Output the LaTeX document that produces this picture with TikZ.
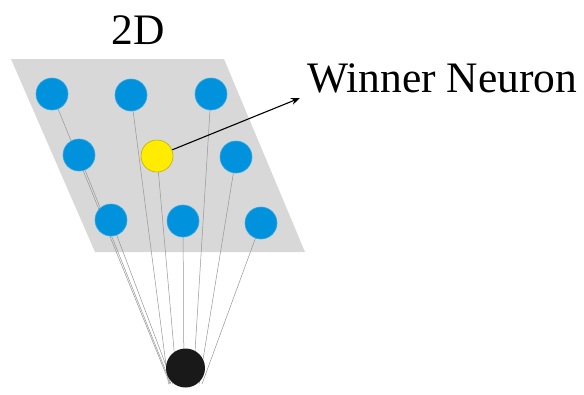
\documentclass[tikz,border=0pt]{standalone}
\usepackage{fontspec}
\setmainfont{Liberation Serif}
\usetikzlibrary{arrows.meta}
\definecolor{planegray}{RGB}{216,216,216}
\definecolor{unitblue}{RGB}{0,146,221}
\definecolor{winyellow}{RGB}{255,236,0}
\definecolor{linkgray}{RGB}{150,150,150}
\tikzset{
  unit/.style={circle, minimum size=32pt, inner sep=0pt, fill=unitblue, draw=unitblue!80!white, line width=0.6pt},
  winner/.style={unit, fill=winyellow, draw=winyellow!75!black},
  inputnode/.style={circle, minimum size=39pt, inner sep=0pt, fill=black!90},
  link/.style={draw=linkgray, line width=0.5pt},
  label/.style={font=\fontsize{43.5}{48}\selectfont, inner sep=0pt}
}
\begin{document}
\begin{tikzpicture}[x=1pt, y=-1pt]
  \useasboundingbox (0,0) rectangle (584,394);
  % 2D map plane
  \fill[planegray] (11,59) -- (224,59) -- (305,252) -- (95,252) -- cycle;
  % units of the map and the input node (positions first, drawn later on top)
  \coordinate (u11) at (52,94);
  \coordinate (u12) at (131,95);
  \coordinate (u13) at (211,94);
  \coordinate (u21) at (79,155);
  \coordinate (u22) at (157,156);
  \coordinate (u23) at (236,157);
  \coordinate (u31) at (111,220);
  \coordinate (u32) at (183,221);
  \coordinate (u33) at (261,223);
  \coordinate (inc) at (185.5,368);
  % connections from the input to every unit
  \foreach \u/\dx in {u11/-15.5,u12/-17,u13/7.5,u21/-14.5,u22/-8.5,u23/13.5,u31/-12.5,u32/-1.5,u33/16.5}{
    \path[link] (\u) -- ([xshift=\dx pt, yshift=-16pt]inc);
  }
  % units
  \node[unit]   (n11) at (u11) {};
  \node[unit]   (n12) at (u12) {};
  \node[unit]   (n13) at (u13) {};
  \node[unit]   (n21) at (u21) {};
  \node[winner] (n22) at (u22) {};
  \node[unit]   (n23) at (u23) {};
  \node[unit]   (n31) at (u31) {};
  \node[unit]   (n32) at (u32) {};
  \node[unit]   (n33) at (u33) {};
  \node[inputnode] (in) at (inc) {};
  % labels
  \node[label] (title) at (138,30) {2D};
  \node[label, anchor=west] (win) at (307,78) {Winner Neuron};
  \coordinate (tip) at (300,98);
  \draw[line width=1.1pt, shorten <=16.5pt, -{Stealth[length=9pt,width=7pt]}] (n22.center) -- (tip);
\end{tikzpicture}
\end{document}
